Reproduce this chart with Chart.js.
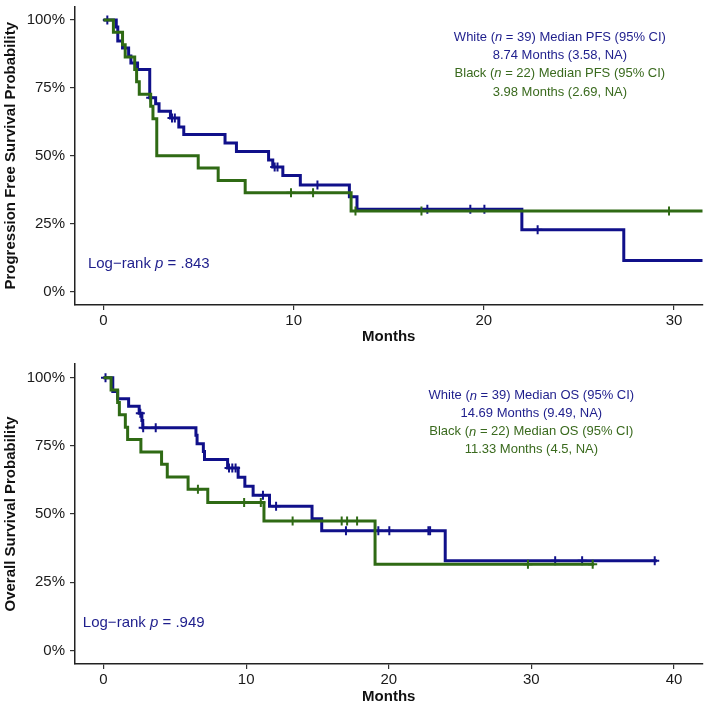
<!DOCTYPE html>
<html>
<head>
<meta charset="utf-8">
<script src="https://cdn.jsdelivr.net/npm/chart.js@4.4.1/dist/chart.umd.min.js"></script>
<style>
  html, body { margin: 0; padding: 0; background: #fff; }
  #wrap { width: 709px; height: 709px; }
  canvas { display: block; }
</style>
</head>
<body>
<div id="wrap">
  <canvas id="pfs" width="709" height="354"></canvas>
  <canvas id="os" width="709" height="355"></canvas>
</div>
<script>
// ---- data (months, survival %) ----
const pfsWhiteTime = [0, 0.67, 0.75, 1.0, 1.32, 1.44, 1.79, 2.43, 2.74, 2.92, 3.52, 3.96, 4.22, 6.39, 6.99, 8.68, 8.9, 9.43, 10.35, 12.93, 13.33, 22.0, 27.36, 32];
const pfsWhiteSurv = [100, 97.4, 92.3, 89.7, 86.8, 84.2, 81.8, 71.4, 69.2, 66.4, 63.9, 60.6, 57.8, 54.7, 51.6, 48.4, 45.9, 42.7, 39.2, 34.9, 30.3, 22.7, 11.4, 11.4];
const pfsWhiteCensor = [0.2, 2.48, 3.6, 3.75, 9.0, 9.15, 11.25, 17.03, 19.29, 20.03, 22.83];

const pfsBlackTime = [0, 0.52, 1.0, 1.14, 1.64, 1.74, 1.88, 2.48, 2.6, 2.8, 4.98, 6.03, 7.45, 13.02, 32];
const pfsBlackSurv = [100, 95.5, 90.9, 86.4, 81.8, 77.3, 72.7, 68.2, 63.6, 50.0, 45.5, 40.9, 36.4, 29.6, 29.6];
const pfsBlackCensor = [9.86, 11.02, 13.25, 16.72, 29.74];

const osWhiteTime = [0, 0.65, 0.99, 1.76, 2.5, 2.69, 2.75, 6.48, 6.56, 7.0, 7.08, 8.7, 9.44, 9.91, 10.49, 11.64, 14.62, 15.3, 23.96, 38.8];
const osWhiteSurv = [100, 94.9, 92.3, 89.5, 86.9, 84.3, 81.6, 78.9, 75.8, 72.9, 70.0, 66.9, 63.5, 60.2, 56.9, 52.8, 48.3, 43.9, 32.9, 32.9];
const osWhiteCensor = [0.14, 2.58, 2.78, 3.66, 8.8, 9.03, 9.26, 11.18, 12.1, 17.0, 19.27, 20.04, 22.78, 22.9, 31.67, 33.56, 38.65];

const osBlackTime = [0, 0.53, 0.99, 1.11, 1.53, 1.69, 2.62, 4.07, 4.47, 5.93, 7.31, 11.25, 19.04, 34.4];
const osBlackSurv = [100, 95.5, 90.9, 86.4, 81.8, 77.3, 72.7, 68.2, 63.6, 59.1, 54.2, 47.4, 31.6, 31.6];
const osBlackCensor = [6.62, 9.86, 11.03, 13.26, 16.7, 17.08, 17.78, 29.76, 34.3];

const yTicks = [0, 25, 50, 75, 100];
const pfsXTicks = [0, 10, 20, 30];
const osXTicks = [0, 10, 20, 30, 40];

const pfsLegend = [
  ["White (", "n", " = 39) Median PFS (95% CI)"],
  ["8.74 Months (3.58, NA)"],
  ["Black (", "n", " = 22) Median PFS (95% CI)"],
  ["3.98 Months (2.69, NA)"]
];
const osLegend = [
  ["White (", "n", " = 39) Median OS (95% CI)"],
  ["14.69 Months (9.49, NA)"],
  ["Black (", "n", " = 22) Median OS (95% CI)"],
  ["11.33 Months (4.5, NA)"]
];
const pfsPText = ["Log\u2212rank ", "p", " = .843"];
const osPText = ["Log\u2212rank ", "p", " = .949"];

const BLUE = "#10108a", GREEN = "#2f6a14";
const BLUE_TXT = "#1e1e8c", GREEN_TXT = "#3a6a1e";
const FONT = "'Liberation Sans', Arial, Helvetica, sans-serif";

function curve(times, surv) {
  return times.map((t, i) => ({ x: t, y: surv[i] }));
}

// censor marks sit on the curve: take the level at that time
function censorPoints(times, surv, cens) {
  return cens.map(c => {
    let s = surv[0];
    for (let i = 0; i < times.length; i++) if (times[i] <= c) s = surv[i];
    return { x: c, y: s };
  });
}

// draw text pieces; odd pieces are italic
function drawRich(ctx, parts, x, y, size, color, align) {
  const fonts = parts.map((p, i) => (i % 2 === 1 ? "italic " : "") + size + "px " + FONT);
  const widths = parts.map((p, i) => { ctx.font = fonts[i]; return ctx.measureText(p).width; });
  const total = widths.reduce((a, b) => a + b, 0);
  let cx = align === "center" ? x - total / 2 : x;
  ctx.fillStyle = color;
  ctx.textBaseline = "middle";
  ctx.textAlign = "left";
  parts.forEach((p, i) => { ctx.font = fonts[i]; ctx.fillText(p, cx, y); cx += widths[i]; });
}

function makeChart(id, cfg) {
  const notes = {
    id: "notes_" + id,
    afterDraw(chart) {
      const ctx = chart.ctx;
      const xs = chart.scales.x, ys = chart.scales.y;
      ctx.save();
      const cx = xs.getPixelForValue(cfg.legendX);
      const y0 = ys.getPixelForValue(cfg.legendY);
      cfg.legend.forEach((line, i) => {
        drawRich(ctx, line, cx, y0 + i * cfg.lineGap, 13, i < 2 ? BLUE_TXT : GREEN_TXT, "center");
      });
      drawRich(ctx, cfg.pText, xs.getPixelForValue(cfg.pX), ys.getPixelForValue(cfg.pY), 15, BLUE_TXT, "left");
      ctx.restore();
    }
  };

  return new Chart(document.getElementById(id), {
    type: "line",
    data: {
      datasets: [
        { data: curve(cfg.bTime, cfg.bSurv), borderColor: GREEN, borderWidth: 3, stepped: true, pointRadius: 0, fill: false, order: 1 },
        { type: "scatter", data: censorPoints(cfg.bTime, cfg.bSurv, cfg.bCens), borderColor: GREEN, backgroundColor: GREEN,
          pointStyle: "cross", pointRadius: 4.5, borderWidth: 2, showLine: false, order: 0 },
        { data: curve(cfg.wTime, cfg.wSurv), borderColor: BLUE, borderWidth: 3, stepped: true, pointRadius: 0, fill: false, order: 3 },
        { type: "scatter", data: censorPoints(cfg.wTime, cfg.wSurv, cfg.wCens), borderColor: BLUE, backgroundColor: BLUE,
          pointStyle: "cross", pointRadius: 4.5, borderWidth: 2, showLine: false, order: 2 }
      ]
    },
    options: {
      responsive: false,
      animation: false,
      layout: { padding: { top: cfg.padTop, right: 0, bottom: 0, left: 0 } },
      plugins: { legend: { display: false }, tooltip: { enabled: false } },
      scales: {
        x: {
          type: "linear",
          min: cfg.xMin,
          max: cfg.xMax,
          afterBuildTicks: s => { s.ticks = cfg.xTicks.map(v => ({ value: v })); },
          afterFit: s => { s.height = cfg.xHeight; s.paddingLeft = 0; s.paddingRight = 0; },
          grid: { drawOnChartArea: false, drawTicks: true, tickLength: 5, color: "#333", lineWidth: 1.2 },
          border: { display: true, color: "#222", width: 1.5 },
          ticks: { color: "#1a1a1a", font: { family: FONT, size: 15 }, padding: 2, maxRotation: 0, autoSkip: false },
          title: { display: true, text: "Months", color: "#111", font: { family: FONT, size: 15, weight: "bold" },
                   padding: { top: 0, bottom: cfg.titlePad } }
        },
        y: {
          min: -5,
          max: 105,
          afterBuildTicks: s => { s.ticks = yTicks.map(v => ({ value: v })); },
          afterFit: s => { s.width = 75; s.paddingTop = 0; s.paddingBottom = 0; },
          grid: { drawOnChartArea: false, drawTicks: true, tickLength: 5, color: "#333", lineWidth: 1.2 },
          border: { display: true, color: "#222", width: 1.5 },
          ticks: { color: "#1a1a1a", font: { family: FONT, size: 15 }, padding: 5, callback: v => v + "%" },
          title: { display: true, text: cfg.yTitle, color: "#111", font: { family: FONT, size: 15, weight: "bold" },
                   padding: { top: 2, bottom: 0 } }
        }
      }
    },
    plugins: [notes]
  });
}

makeChart("pfs", {
  wTime: pfsWhiteTime, wSurv: pfsWhiteSurv, wCens: pfsWhiteCensor,
  bTime: pfsBlackTime, bSurv: pfsBlackSurv, bCens: pfsBlackCensor,
  xMin: -1.5, xMax: 31.5, xTicks: pfsXTicks, xHeight: 49, padTop: 4, titlePad: 8,
  yTitle: "Progression Free Survival Probability",
  legend: pfsLegend, legendX: 24.0, legendY: 93.7, lineGap: 18.3,
  pText: pfsPText, pX: -0.82, pY: 10.3
});

makeChart("os", {
  wTime: osWhiteTime, wSurv: osWhiteSurv, wCens: osWhiteCensor,
  bTime: osBlackTime, bSurv: osBlackSurv, bCens: osBlackCensor,
  xMin: -2, xMax: 42, xTicks: osXTicks, xHeight: 45, padTop: 10, titlePad: 3,
  yTitle: "Overall Survival Probability",
  legend: osLegend, legendX: 30.0, legendY: 93.3, lineGap: 18,
  pText: osPText, pX: -1.45, pY: 10.0
});
</script>
</body>
</html>
